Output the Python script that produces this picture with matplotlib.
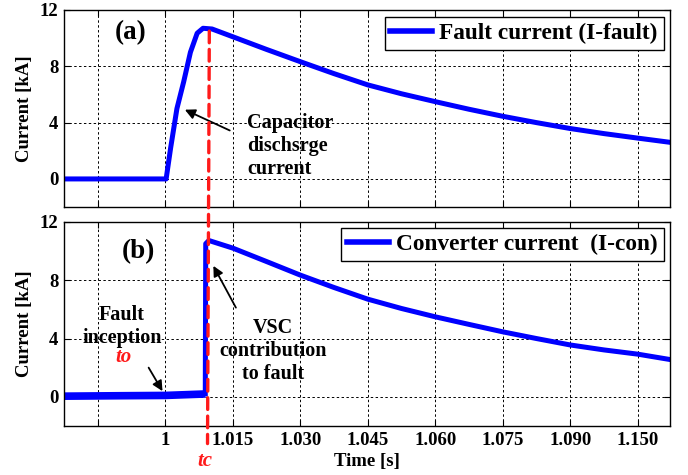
import matplotlib
matplotlib.use('Agg')
import matplotlib.pyplot as plt
from matplotlib.patches import ConnectionPatch

plt.rcParams['font.family'] = ['Liberation Serif', 'DejaVu Serif']
plt.rcParams['font.weight'] = 'bold'
plt.rcParams['axes.labelweight'] = 'bold'

# tick positions (s) and the labels printed under them
TICK_POS = [0.985, 1.000, 1.015, 1.030, 1.045, 1.060, 1.075, 1.090, 1.105]
TICK_LBL = ['', '1', '1.015', '1.030', '1.045', '1.060', '1.075', '1.090', '1.150']
Y_TICKS = [0, 4, 8, 12]

# (a) fault current, kA
t_fault = [0.9775, 1.0002, 1.0012, 1.0026, 1.0041, 1.0056, 1.0071, 1.0084,
           1.0104, 1.0150, 1.0225, 1.0300, 1.0375, 1.0450, 1.0525,
           1.0600, 1.0675, 1.0750, 1.0825, 1.0900, 1.0975, 1.1050, 1.1122]
i_fault = [0.0, 0.0, 2.2, 5.0, 6.9, 9.0, 10.35, 10.7,
           10.65, 10.1, 9.2, 8.33, 7.48, 6.68, 6.05,
           5.49, 4.95, 4.45, 4.0, 3.58, 3.22, 2.9, 2.6]

# (b) converter current, kA
t_pre = [0.9775, 0.9900, 1.0000, 1.0089]
i_pre = [0.05, 0.08, 0.1, 0.2]
t_con = [1.0089, 1.0090, 1.0097, 1.0150, 1.0225, 1.0300, 1.0375, 1.0450,
         1.0525, 1.0600, 1.0675, 1.0750, 1.0825, 1.0900, 1.0975, 1.1050, 1.1122]
i_con = [0.2, 10.5, 10.72, 10.2, 9.28, 8.35, 7.5, 6.7,
         6.06, 5.49, 4.97, 4.46, 4.0, 3.56, 3.22, 2.93, 2.56]

T_C_TOP = 1.0098
T_C_BOT = 1.0094
BLUE = '#0000FF'
RED = '#FF1A1A'

fig = plt.figure(figsize=(6.88, 4.75), dpi=100)
ax1 = fig.add_axes([0.093, 0.564, 0.881, 0.415])
ax2 = fig.add_axes([0.093, 0.103, 0.881, 0.430])

for ax in (ax1, ax2):
    ax.set_xlim(0.9775, 1.1122)
    ax.set_ylim(-2, 12)
    ax.set_xticks(TICK_POS)
    ax.set_yticks(Y_TICKS)
    ax.grid(True, color='black', linestyle=(0, (2.5, 2.5)), linewidth=0.7)
    ax.tick_params(direction='in', top=True, right=True, length=4, labelsize=13.5, pad=4)
    for s in ax.spines.values():
        s.set_linewidth(1.0)
    ax.set_ylabel('Current [kA]', fontsize=13.5, labelpad=5)

ax1.set_xticklabels([])
ax2.set_xticklabels(TICK_LBL)
ax2.set_xlabel('Time [s]', fontsize=13.5, labelpad=3)

ax1.plot(t_fault, i_fault, color=BLUE, lw=3.6, label='Fault current (I-fault)')
ax2.plot(t_pre, i_pre, color=BLUE, lw=5.5, solid_capstyle='butt')
ax2.plot(t_con, i_con, color=BLUE, lw=3.6, label='Converter current  (I-con)')

leg_kw = dict(loc='upper right', fontsize=16.8, frameon=True, fancybox=False,
              edgecolor='black', framealpha=1, handlelength=1.8,
              borderaxespad=0.28, borderpad=0.25, handletextpad=0.3)
l1 = ax1.legend(**leg_kw)
l2 = ax2.legend(**leg_kw)
for l in (l1, l2):
    l.get_frame().set_linewidth(1.0)
    for h in l.get_lines():
        h.set_linewidth(4)

ax1.text(0.9923, 10.37, '(a)', fontsize=19.5, ha='center', va='center')
ax2.text(0.9941, 9.95, '(b)', fontsize=19.5, ha='center', va='center')

ax1.annotate('', xy=(1.0038, 5.0), xytext=(1.0149, 3.36),
             arrowprops=dict(arrowstyle='-|>', color='black', lw=1.3, mutation_scale=15))
ax1.text(1.0182, 2.34, 'Capacitor\ndischsrge\ncurrent', fontsize=14.5,
         ha='left', va='center', linespacing=1.2)

ax2.text(0.9904, 4.85, 'Fault\ninception', fontsize=14.5, ha='center',
         va='center', linespacing=1.2)
ax2.text(0.9908, 2.74, 'to', fontsize=15, color=RED, style='italic',
         ha='center', va='center')
ax2.annotate('', xy=(0.9997, 0.23), xytext=(0.9960, 2.17),
             arrowprops=dict(arrowstyle='-|>', color='black', lw=1.3, mutation_scale=15))

ax2.text(1.0240, 3.13, 'VSC\ncontribution\nto fault', fontsize=14.5,
         ha='center', va='center', linespacing=1.2)
ax2.annotate('', xy=(1.0104, 9.15), xytext=(1.0160, 5.95),
             arrowprops=dict(arrowstyle='-|>', color='black', lw=1.3, mutation_scale=15))

# red dashed marker through both panels
con = ConnectionPatch(xyA=(T_C_TOP, 10.5), coordsA=ax1.transData,
                      xyB=(T_C_BOT, -3.2), coordsB=ax2.transData,
                      color=RED, lw=2.4, linestyle=(0, (3.5, 2)), zorder=10)
fig.add_artist(con)
ax2.text(T_C_BOT - 0.0006, -4.4, 'tc', fontsize=15, color=RED, style='italic',
         ha='center', va='center', clip_on=False)

fig.savefig('out.png', dpi=100)
